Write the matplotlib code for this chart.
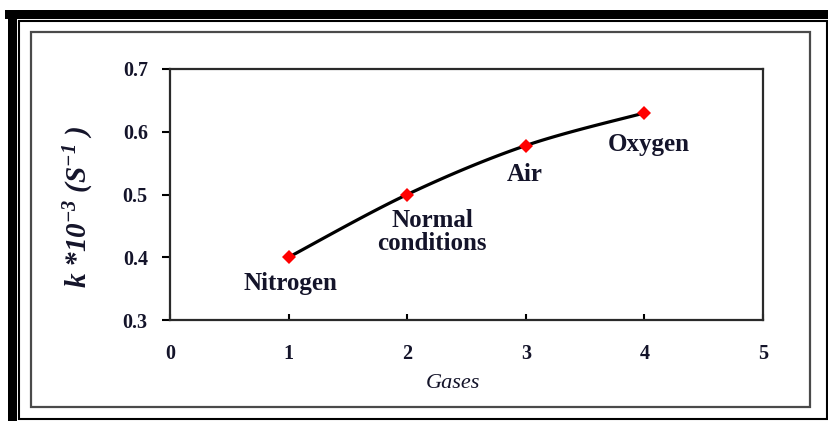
import matplotlib

matplotlib.use("Agg")
import matplotlib.pyplot as plt
import numpy as np
from matplotlib.patches import Rectangle

W, H = 829, 421

gases = ["Nitrogen", "Normal\nconditions", "Air", "Oxygen"]
gas_index = [1, 2, 3, 4]
k_values = [0.40, 0.50, 0.578, 0.63]

x_ticks = [0, 1, 2, 3, 4, 5]
y_ticks = [0.3, 0.4, 0.5, 0.6, 0.7]

# label offsets in points (dx, dy) relative to each marker
label_offsets = [(1.5, -19), (18, -27), (-1, -21), (3, -22.5)]

SERIF = "Liberation Serif"
TEXT_COLOR = "#14142a"

plt.rcParams["mathtext.fontset"] = "custom"
plt.rcParams["mathtext.rm"] = SERIF
plt.rcParams["mathtext.it"] = SERIF + ":italic"
plt.rcParams["mathtext.bf"] = SERIF + ":italic:bold"


def px_rect(x0, y0, x1, y1):
    """Rectangle given in pixels from the top-left corner, as figure fractions."""
    return (x0 / W, 1 - y1 / H), (x1 - x0) / W, (y1 - y0) / H


def smooth_curve(xs, ys, n=40):
    """Bezier smoothing through the points, like a spreadsheet smoothed line."""
    p = np.column_stack([xs, ys]).astype(float)
    p_ext = np.vstack([p[0], p, p[-1]])
    out = []
    t = np.linspace(0, 1, n)[:, None]
    for i in range(len(p) - 1):
        p0, p3 = p[i], p[i + 1]
        c1 = p0 + (p_ext[i + 2] - p_ext[i]) / 6
        c2 = p3 - (p_ext[i + 3] - p_ext[i + 1]) / 6
        seg = ((1 - t) ** 3) * p0 + 3 * ((1 - t) ** 2) * t * c1 \
            + 3 * (1 - t) * t ** 2 * c2 + t ** 3 * p3
        out.append(seg)
    out = np.vstack(out)
    return out[:, 0], out[:, 1]


def draw_frames(fig):
    # thick black bands on top and left
    for x0, y0, x1, y1 in [(5, 10, 829, 19), (8, 10, 17, 421)]:
        xy, w, h = px_rect(x0, y0, x1, y1)
        fig.add_artist(Rectangle(xy, w, h, transform=fig.transFigure,
                                 facecolor="black", edgecolor="none"))
    # thin black outer border
    xy, w, h = px_rect(19.5, 21, 827.5, 419)
    fig.add_artist(Rectangle(xy, w, h, transform=fig.transFigure,
                             facecolor="none", edgecolor="black", linewidth=1.5))
    # grey chart-area border
    xy, w, h = px_rect(31, 32, 810, 407)
    fig.add_artist(Rectangle(xy, w, h, transform=fig.transFigure,
                             facecolor="none", edgecolor="#4a4a4a", linewidth=1.6))


def main():
    fig = plt.figure(figsize=(W / 100, H / 100), dpi=100)
    ax = fig.add_axes([170 / W, 1 - 320 / H, (763 - 170) / W, (320 - 69) / H])

    cx, cy = smooth_curve(gas_index, k_values)
    ax.plot(cx, cy, color="black", linewidth=2.3, zorder=2)
    ax.plot(gas_index, k_values, linestyle="none", marker="D", markersize=7.5,
            color="#ff0000", markeredgewidth=0, zorder=3)

    for name, x, y, (dx, dy) in zip(gases, gas_index, k_values, label_offsets):
        ax.annotate(name, (x, y), xytext=(dx, dy), textcoords="offset points",
                    ha="center", va="center", fontsize=18, fontweight="bold",
                    family=SERIF, color=TEXT_COLOR, linespacing=0.95)

    ax.set_xlim(0, 5)
    ax.set_ylim(0.3, 0.7)
    ax.set_xticks(x_ticks)
    ax.set_yticks(y_ticks)
    ax.set_xticklabels([str(v) for v in x_ticks])
    ax.set_yticklabels([f"{v:.1f}" for v in y_ticks])

    ax.tick_params(axis="x", direction="in", length=4, width=1.5, pad=17)
    ax.tick_params(axis="y", direction="out", length=6, width=1.5, pad=10)
    for lab in ax.get_xticklabels() + ax.get_yticklabels():
        lab.set_fontfamily(SERIF)
        lab.set_fontweight("bold")
        lab.set_fontsize(14.5)
        lab.set_color(TEXT_COLOR)
    for spine in ax.spines.values():
        spine.set_linewidth(1.6)
        spine.set_color("#2a2a2a")

    ax.set_xlabel("Gases", family=SERIF, style="italic", fontsize=16,
                  color=TEXT_COLOR)
    ax.xaxis.set_label_coords(0.477, -0.215)
    ax.set_ylabel(r"$\mathbf{k\ {*}10^{-3}\ (S^{-1}\ )}$", fontsize=21,
                  color=TEXT_COLOR)
    ax.yaxis.set_label_coords(-0.125, 0.45)

    draw_frames(fig)

    fig.savefig("out.png", dpi=100)


if __name__ == "__main__":
    main()
